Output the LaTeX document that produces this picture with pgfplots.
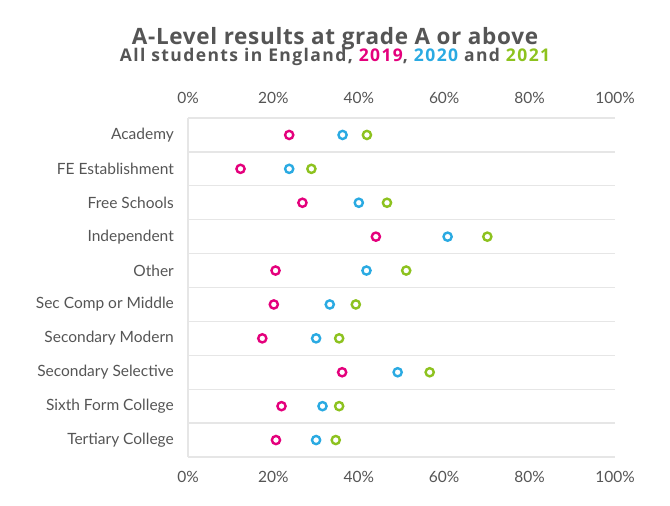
\documentclass[border=0pt]{standalone}
\usepackage{fontspec}
\setmainfont{Lato}
\newfontfamily\subfont[LetterSpace=8]{Open Sans}
\newfontfamily\ttlfont[LetterSpace=3]{Open Sans}
\usepackage{pgfplots}
\pgfplotsset{compat=1.18}
\definecolor{cpink}{HTML}{E4007C}
\definecolor{cblue}{HTML}{2AAAE2}
\definecolor{cgreen}{HTML}{8DC21F}
\definecolor{tgrey}{HTML}{555555}
\definecolor{ggrey}{HTML}{E6E6E6}
\begin{document}
\begin{tikzpicture}[x=1pt,y=1pt]
\useasboundingbox (0,0) rectangle (670,506);
\node[anchor=base, inner sep=0pt, font=\ttlfont\fontsize{22.5}{24}\selectfont\bfseries, text=tgrey] at (335,461) {A-Level results at grade A or above};
\node[anchor=base, inner sep=0pt, font=\subfont\fontsize{17.5}{19}\selectfont\bfseries, text=tgrey] at (335,444) {All students in England, \textcolor{cpink}{2019}, \textcolor{cblue}{2020} and \textcolor{cgreen}{2021}};
\begin{axis}[
  at={(188pt,49pt)}, anchor=south west,
  scale only axis, width=427pt, height=339pt,
  xmin=0, xmax=100, ymin=0.5, ymax=10.5, y dir=reverse,
  axis line style={draw=none},
  major tick length=0pt, minor tick length=0pt,
  xtick={0,20,40,60,80,100},
  xticklabels={0\%,20\%,40\%,60\%,80\%,100\%},
  ytick={1,2,3,4,5,6,7,8,9,10},
  yticklabels={Academy,FE Establishment,Free Schools,Independent,Other,Sec Comp or Middle,Secondary Modern,Secondary Selective,Sixth Form College,Tertiary College},
  minor ytick={0.5,1.5,2.5,3.5,4.5,5.5,6.5,7.5,8.5,9.5,10.5},
  ymajorgrids=false, yminorgrids=true,
  minor grid style={ggrey, line width=1.4pt},
  extra x ticks={0}, extra x tick labels={},
  extra x tick style={grid=major, major grid style={ggrey, line width=1.4pt}},
  tick label style={inner sep=0pt, text=tgrey, font=\fontsize{15.5}{17}\selectfont},
  yticklabel shift=14pt, xticklabel shift=14pt,
  clip=false,
]
\addplot[only marks, mark=*, mark size=4.1pt, mark options={draw=cpink, fill=white, line width=2.4pt}] coordinates {
(23.7,1) (12.3,2) (26.8,3) (44.0,4) (20.5,5) (20.1,6) (17.4,7) (36.1,8) (21.9,9) (20.6,10)};
\addplot[only marks, mark=*, mark size=4.1pt, mark options={draw=cblue, fill=white, line width=2.4pt}] coordinates {
(36.2,1) (23.7,2) (40.0,3) (60.8,4) (41.8,5) (33.2,6) (30.0,7) (49.1,8) (31.5,9) (30.0,10)};
\addplot[only marks, mark=*, mark size=4.1pt, mark options={draw=cgreen, fill=white, line width=2.4pt}] coordinates {
(41.9,1) (28.9,2) (46.6,3) (70.1,4) (51.1,5) (39.3,6) (35.4,7) (56.6,8) (35.4,9) (34.6,10)};
\end{axis}
\begin{axis}[
  at={(188pt,49pt)}, anchor=south west,
  scale only axis, width=427pt, height=339pt,
  xmin=0, xmax=100, ymin=0.5, ymax=10.5,
  axis line style={draw=none},
  major tick length=0pt,
  xticklabel pos=upper,
  xtick={0,20,40,60,80,100},
  xticklabels={0\%,20\%,40\%,60\%,80\%,100\%},
  ytick=\empty,
  tick label style={inner sep=0pt, text=tgrey, font=\fontsize{15.5}{17}\selectfont},
  xticklabel shift=14pt,
]
\end{axis}
\end{tikzpicture}
\end{document}
